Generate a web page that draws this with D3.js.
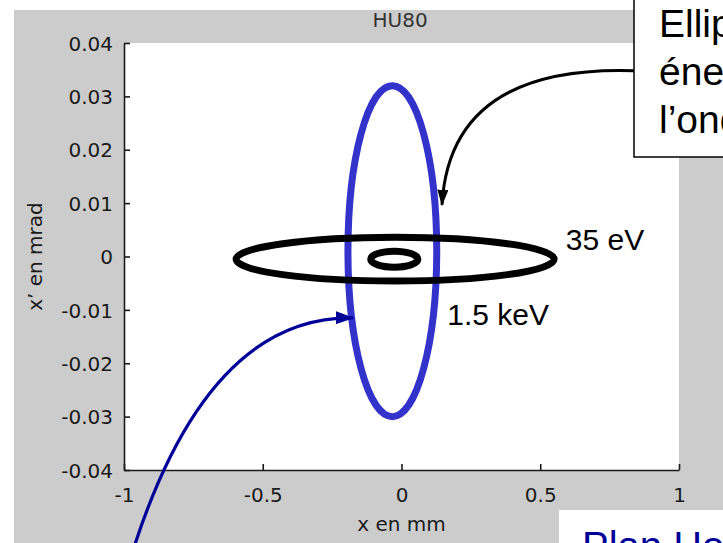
<!DOCTYPE html>
<html><head><meta charset="utf-8">
<script src="https://cdn.jsdelivr.net/npm/d3@7"></script>
<style>html,body{margin:0;padding:0;background:#fff;overflow:hidden}</style>
</head><body>
<script>
// ---- data ----
const xTicks = [-1, -0.5, 0, 0.5, 1];
const xTickLabels = ["-1", "-0.5", "0", "0.5", "1"];
const yTicks = [0.04, 0.03, 0.02, 0.01, 0, -0.01, -0.02, -0.03, -0.04];
const yTickLabels = ["0.04", "0.03", "0.02", "0.01", "0", "-0.01", "-0.02", "-0.03", "-0.04"];
const ellipseNames = ["1.5 keV (vertical)", "35 eV", "35 eV (petite)"];
const ellipseCx = [-0.033, -0.023, -0.026];
const ellipseCy = [0.001, -0.0005, -0.0005];
const ellipseRx = [0.160, 0.573, 0.085];
const ellipseRy = [0.031, 0.0041, 0.0015];
const ellipseColors = ["#3333cc", "#000000", "#000000"];
const title = "HU80";
const xLabel = "x en mm";
const yLabel = "x’ en mrad";
const labels = ["35 eV", "1.5 keV"];
const labelX = [0.592, 0.165];
const labelY = [0.0012, -0.0128];
// annotation arrows (quadratic curves, data units): start, control, end
const arrowBlack = [[0.838, 0.0348], [0.175, 0.0359], [0.146, 0.0097]];
const arrowBlue = [[-0.978, -0.0568], [-0.708, -0.0111], [-0.175, -0.0115]];
const boxLines = ["Ellipses à", "énergies de", "l’onduleur"];
const bottomText = "Plan Horizontal";

// ---- layout ----
const W = 723, H = 543;
const m = {l: 124, r: 679, t: 43, b: 470};
const x = d3.scaleLinear().domain([-1, 1]).range([m.l, m.r]);
const y = d3.scaleLinear().domain([-0.04, 0.04]).range([m.b, m.t]);

const svg = d3.select("body").append("svg").attr("width", W).attr("height", H)
  .style("display", "block");

svg.append("rect").attr("x", 14).attr("y", 10).attr("width", W - 14).attr("height", H - 10).attr("fill", "#cccccc");
svg.append("rect").attr("x", m.l).attr("y", m.t).attr("width", m.r - m.l).attr("height", m.b - m.t).attr("fill", "#ffffff");

const tickFont = "'DejaVu Sans', sans-serif";
const gx = svg.append("g").attr("transform", `translate(0,${m.b})`)
  .call(d3.axisBottom(x).tickValues(xTicks).tickSizeInner(-6).tickSizeOuter(0)
    .tickFormat((d, i) => xTickLabels[i]));
const gy = svg.append("g").attr("transform", `translate(${m.l},0)`)
  .call(d3.axisLeft(y).tickValues(yTicks).tickSizeInner(-6).tickSizeOuter(0)
    .tickFormat((d, i) => yTickLabels[i]));
[gx, gy].forEach(g => {
  g.select(".domain").attr("stroke", "#1a1a1a").attr("stroke-width", 1.6);
  g.selectAll(".tick line").attr("stroke", "#1a1a1a").attr("stroke-width", 1.6);
  g.selectAll(".tick text").attr("fill", "#1a1a1a").style("font-family", tickFont).style("font-size", "20px");
});
gx.selectAll(".tick text").attr("y", 32).attr("dy", 0);
gy.selectAll(".tick text").attr("x", -11).attr("dy", "0.36em");

svg.append("text").attr("x", x(-0.005)).attr("y", 27).attr("text-anchor", "middle")
  .style("font-family", tickFont).style("font-size", "20px").attr("fill", "#333").text(title);
svg.append("text").attr("x", x(0)).attr("y", 531).attr("text-anchor", "middle")
  .style("font-family", tickFont).style("font-size", "20px").attr("fill", "#1a1a1a").text(xLabel);
svg.append("text").attr("transform", `translate(42,${y(0)}) rotate(-90)`).attr("text-anchor", "middle")
  .style("font-family", tickFont).style("font-size", "20px").attr("fill", "#1a1a1a").text(yLabel);

svg.append("g").selectAll("ellipse").data(ellipseNames).join("ellipse")
  .attr("cx", (d, i) => x(ellipseCx[i]))
  .attr("cy", (d, i) => y(ellipseCy[i]))
  .attr("rx", (d, i) => x(ellipseRx[i]) - x(0))
  .attr("ry", (d, i) => y(0) - y(ellipseRy[i]))
  .attr("fill", "none")
  .attr("stroke", (d, i) => ellipseColors[i])
  .attr("stroke-width", 7);

const annFont = "'Liberation Sans', Arial, sans-serif";
svg.append("g").selectAll("text").data(labels).join("text")
  .attr("x", (d, i) => x(labelX[i])).attr("y", (d, i) => y(labelY[i]))
  .style("font-family", annFont).style("font-size", "30px").attr("fill", "#000").text(d => d);

const defs = svg.append("defs");
function marker(id, color, len, wid) {
  defs.append("marker").attr("id", id).attr("markerUnits", "userSpaceOnUse")
    .attr("viewBox", `${-len} ${-wid / 2} ${len + 2} ${wid}`)
    .attr("markerWidth", len + 2).attr("markerHeight", wid)
    .attr("refX", 0).attr("refY", 0).attr("orient", "auto")
    .append("path").attr("d", `M1.5,0 L${-len},${-wid / 2} L${-len},${wid / 2} Z`).attr("fill", color);
}
marker("mBlack", "#000", 15, 11);
marker("mBlue", "#000099", 17, 13);
function quad(p) {
  const pp = d3.path();
  pp.moveTo(x(p[0][0]), y(p[0][1]));
  pp.quadraticCurveTo(x(p[1][0]), y(p[1][1]), x(p[2][0]), y(p[2][1]));
  return pp.toString();
}

svg.append("rect").attr("x", 634).attr("y", -10).attr("width", 120).attr("height", 167)
  .attr("fill", "#fff").attr("stroke", "#000").attr("stroke-width", 1.5);
svg.append("g").selectAll("text").data(boxLines).join("text")
  .attr("x", 659).attr("y", (d, i) => 37 + i * 48)
  .style("font-family", annFont).style("font-size", "39px").attr("fill", "#000").text(d => d);

svg.append("path").attr("d", quad(arrowBlack)).attr("fill", "none").attr("stroke", "#000")
  .attr("stroke-width", 3).attr("marker-end", "url(#mBlack)");

svg.append("rect").attr("x", 559).attr("y", 510).attr("width", 200).attr("height", 60).attr("fill", "#fff");
svg.append("text").attr("x", 582).attr("y", 560)
  .style("font-family", annFont).style("font-size", "40px").attr("fill", "#000099").text(bottomText);

svg.append("path").attr("d", quad(arrowBlue)).attr("fill", "none").attr("stroke", "#000099")
  .attr("stroke-width", 3.2).attr("marker-end", "url(#mBlue)");
</script>
</body></html>
